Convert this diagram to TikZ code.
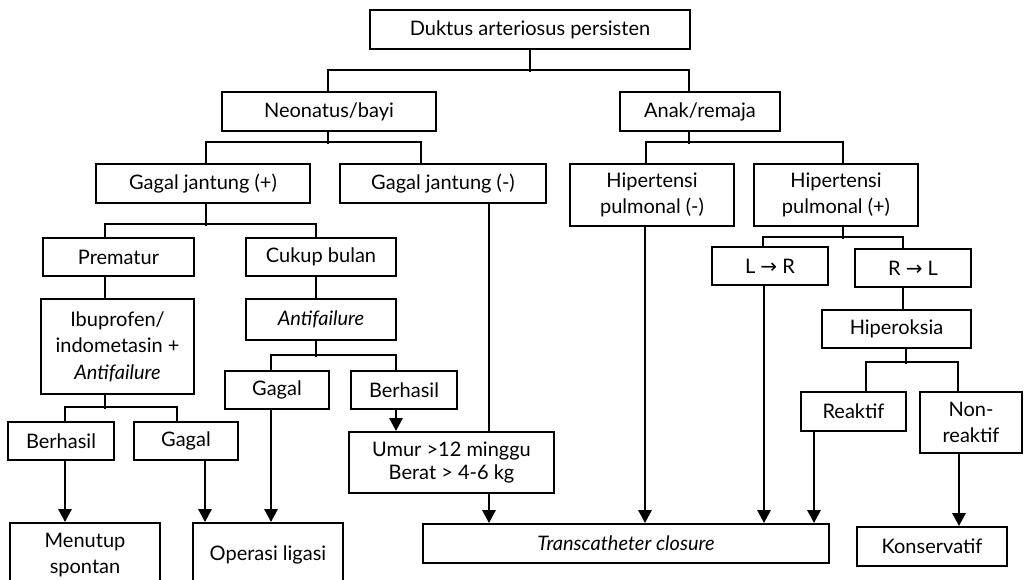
\documentclass[tikz,border=0pt]{standalone}
\usepackage{fontspec}
\setmainfont{Lato}
\newfontfamily\symfont{DejaVu Sans}
\usetikzlibrary{arrows.meta}
\newcommand{\rarr}{{\symfont →}}
\begin{document}
\begin{tikzpicture}[x=1pt,y=-1pt,
  box/.style={draw, line width=1.8pt, inner sep=0pt, align=center,
    font=\fontsize{20}{26.5}\selectfont},
  link/.style={line width=1.8pt},
  flow/.style={line width=2.8pt, -{Triangle[length=13pt,width=13pt]}},
]
\useasboundingbox (0,0) rectangle (1026,580);
\clip (0,0) rectangle (1026,580);

% ---- boxes ----
\node[box, minimum width=320pt, minimum height=39pt] (dap) at (530,29.5) {Duktus arteriosus persisten};
\node[box, minimum width=214pt, minimum height=39pt] (neo) at (329,111.5) {Neonatus/bayi};
\node[box, minimum width=160pt, minimum height=39pt] (anak) at (700,111.5) {Anak/remaja};
\node[box, minimum width=214pt, minimum height=39pt] (gjp) at (203,183.5) {Gagal jantung (+)};
\node[box, minimum width=206pt, minimum height=39pt] (gjm) at (443,183.5) {Gagal jantung (-)};
\node[box, minimum width=164pt, minimum height=62pt] (hpm) at (652,195) {Hipertensi\\pulmonal (-)};
\node[box, minimum width=164pt, minimum height=62pt] (hpp) at (836,195) {Hipertensi\\pulmonal (+)};
\node[box, minimum width=116pt, minimum height=38pt] (lr) at (770,266) {L \rarr\ R};
\node[box, minimum width=116pt, minimum height=38pt] (rl) at (913,268) {R \rarr\ L};
\node[box, minimum width=149pt, minimum height=38pt] (hip) at (896.5,329) {Hiperoksia};
\node[box, minimum width=105pt, minimum height=39pt] (rea) at (853.5,411.5) {Reaktif};
\node[box, minimum width=102pt, minimum height=61pt] (nonr) at (971,422.5) {Non-\\reaktif};
\node[box, minimum width=150pt, minimum height=39pt] (kons) at (932,546.5) {Konservatif};
\node[box, minimum width=406pt, minimum height=39pt] (trans) at (626,543.5) {\itshape Transcatheter closure};
\node[box, minimum width=205pt, minimum height=61pt, font=\fontsize{20}{23.5}\selectfont] (umur) at (451.5,462.5) {Umur >12 minggu\\Berat > 4-6 kg};
\node[box, minimum width=106pt, minimum height=38pt] (berR) at (404,390) {Berhasil};
\node[box, minimum width=104pt, minimum height=38pt] (gagM) at (277,390) {Gagal};
\node[box, minimum width=150pt, minimum height=41pt] (anti) at (321,319.5) {\itshape Antifailure};
\node[box, minimum width=150pt, minimum height=38pt] (cukup) at (321,257) {Cukup bulan};
\node[box, minimum width=151pt, minimum height=38pt] (prem) at (118.5,257) {Prematur};
\node[box, minimum width=153pt, minimum height=95pt] (ibu) at (117.5,346.5) {Ibuprofen/\\indometasin +\\\itshape Antifailure};
\node[box, minimum width=106pt, minimum height=38pt] (berL) at (61,441) {Berhasil};
\node[box, minimum width=104pt, minimum height=38pt] (gagL) at (186,441) {Gagal};
\node[box, minimum width=150pt, minimum height=64pt] (menutup) at (85,555) {Menutup\\spontan};
\node[box, minimum width=150pt, minimum height=64pt] (operasi) at (268,555) {Operasi ligasi};

% ---- tree connectors ----
\draw[link] (dap.south) -- ++(0,22);
\draw[link] ([xshift=-1pt]neo.north) -- ++(0,-21) -| ([xshift=-11pt]anak.north);

\draw[link] ([xshift=-1pt]neo.south) -- ++(0,12);
\draw[link] ([xshift=3pt]gjp.north) -- ++(0,-21) -| ([xshift=-22pt]gjm.north);

\draw[link] ([xshift=-11pt]anak.south) -- ++(0,12);
\draw[link] ([xshift=-6pt]hpm.north) -- ++(0,-21) -| ([xshift=7pt]hpp.north);

\draw[link] ([xshift=3pt]gjp.south) -- ++(0,22);
\draw[link] ([xshift=-13.5pt]prem.north) -- ++(0,-13) -| ([xshift=-5pt]cukup.north);
\draw[link] ([xshift=-13.5pt]prem.south) -- ([xshift=-12.5pt]ibu.north);
\draw[link] ([xshift=-5pt]cukup.south) -- ([xshift=-5pt]anti.north);

\draw[link] ([xshift=-5pt]anti.south) -- ++(0,16);
\draw[link] ([xshift=-6pt]gagM.north) -- ++(0,-15) -| ([xshift=-8pt]berR.north);

\draw[link] ([xshift=-12.5pt]ibu.south) -- ++(0,14);
\draw[link] ([xshift=4pt]berL.north) -- ++(0,-14) -| ([xshift=-9pt]gagL.north);

\draw[link] ([xshift=7pt]hpp.south) -- ++(0,12);
\draw[link] ([xshift=-7pt]lr.north) -- ++(0,-9) -| ([xshift=-10pt]rl.north);
\draw[link] ([xshift=-10pt]rl.south) -- ([xshift=6.5pt]hip.north);
\draw[link] ([xshift=9.5pt]hip.south) -- ++(0,15);
\draw[link] ([xshift=12.5pt]rea.north) -- ++(0,-29) -| ([xshift=-13pt]nonr.north);

\draw[link] ([xshift=46pt]gjm.south) -- ([xshift=37.5pt]umur.north);

% ---- arrows ----
\draw[flow] ([xshift=4pt]berL.south) -- ([xshift=-20pt]menutup.north);
\draw[flow] ([xshift=19pt]gagL.south) -- ([xshift=-63pt]operasi.north);
\draw[flow] ([xshift=-6pt]gagM.south) -- ([xshift=3pt]operasi.north);
\draw[flow] ([xshift=-8pt]berR.south) -- ([xshift=-55.5pt]umur.north);
\draw[flow] ([xshift=37.5pt]umur.south) -- ([xshift=-137pt]trans.north);
\draw[flow] ([xshift=-7pt]hpm.south) -- ([xshift=19pt]trans.north);
\draw[flow] ([xshift=-6pt]lr.south) -- ([xshift=138pt]trans.north);
\draw[flow] ([xshift=-39.5pt]rea.south) -- ([xshift=188pt]trans.north);
\draw[flow] ([xshift=-12pt]nonr.south) -- ([xshift=27pt]kons.north);
\end{tikzpicture}
\end{document}
